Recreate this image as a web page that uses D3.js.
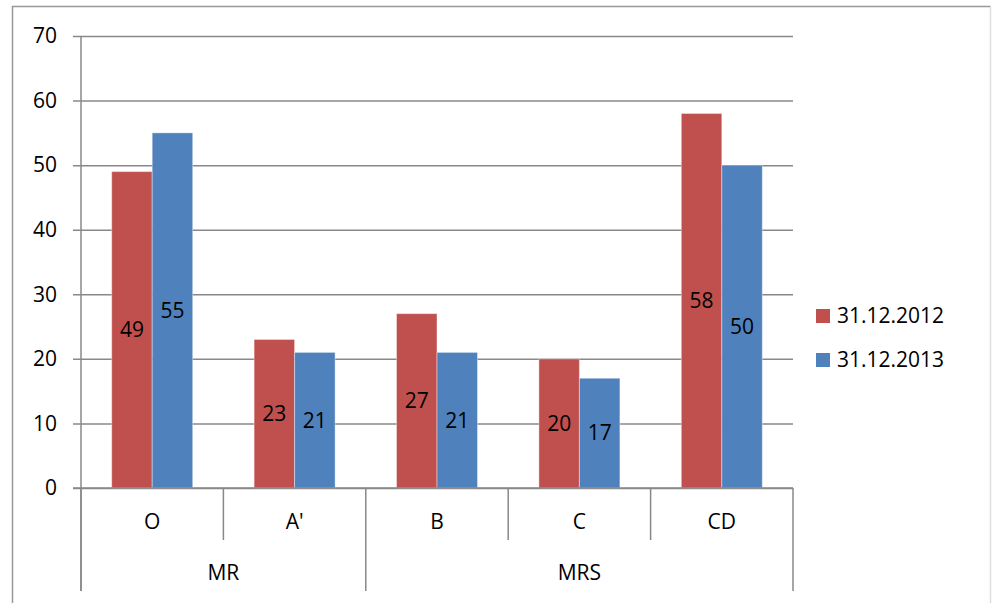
<!DOCTYPE html>
<html lang="en">
<head>
    <meta charset="UTF-8">
    <title>Chart</title>
    <script src="https://d3js.org/d3.v7.min.js"></script>
    <style>
        body { margin: 0; background: #fff; }
        text { font-family: "Open Sans", sans-serif; fill: #000; }
    </style>
</head>
<body>
<script type="text/javascript">
    var categories = ["O", "A'", "B", "C", "CD"];
    var groups = [
        {name: "MR", members: ["O", "A'"]},
        {name: "MRS", members: ["B", "C", "CD"]}
    ];
    var seriesNames = ["31.12.2012", "31.12.2013"];
    var values2012 = [49, 23, 27, 20, 58];
    var values2013 = [55, 21, 21, 17, 50];
    var yTicks = [0, 10, 20, 30, 40, 50, 60, 70];
    var colors = ["#C0504D", "#4F81BD"];

    var svgWidth = 992, svgHeight = 603;
    var plotLeft = 81, plotRight = 793, plotTop = 36, plotBottom = 488;
    var gridColor = "#888";
    var fontSize = "21px";

    var svg = d3.select("body").append("svg")
        .attr("width", svgWidth)
        .attr("height", svgHeight);

    // chart frame
    svg.append("path")
        .attr("d", "M12.5,610 V6.5 H990.5")
        .attr("fill", "none")
        .attr("stroke", "#999")
        .attr("stroke-width", 1.5);
    svg.append("line")
        .attr("x1", 990.5).attr("x2", 990.5).attr("y1", 7).attr("y2", 610)
        .attr("stroke", "#ddd").attr("stroke-width", 1.5);

    var yScale = d3.scaleLinear().domain([0, 70]).range([plotBottom, plotTop]);
    var xScale = d3.scaleBand().domain(categories).range([plotLeft, plotRight]);
    var inner = d3.scaleBand().domain(seriesNames).range([0, xScale.bandwidth()]).paddingInner(0).paddingOuter(0.758);

    // gridlines + y labels
    var yAxis = d3.axisLeft(yScale).tickValues(yTicks).tickSize(-(plotRight - plotLeft + 8)).tickPadding(16);
    var gy = svg.append("g")
        .attr("transform", "translate(" + (plotLeft - 8) + ",0)")
        .call(yAxis);
    gy.select(".domain").remove();
    gy.selectAll(".tick line").attr("stroke", gridColor).attr("stroke-width", 1.5);
    gy.selectAll(".tick text").attr("font-size", fontSize).attr("font-family", "Open Sans, sans-serif").attr("fill", "#000");

    // y axis line
    svg.append("line")
        .attr("x1", plotLeft).attr("x2", plotLeft).attr("y1", plotTop).attr("y2", 591)
        .attr("stroke", gridColor).attr("stroke-width", 1.5);

    // bars
    var data = categories.map(function (c, i) {
        return {cat: c, vals: [values2012[i], values2013[i]]};
    });
    var cg = svg.selectAll(".cat")
        .data(data)
        .enter()
        .append("g")
        .attr("transform", function (d) { return "translate(" + xScale(d.cat) + ",0)"; });
    var bars = cg.selectAll("g.bar")
        .data(function (d) {
            return d.vals.map(function (v, j) { return {series: seriesNames[j], v: v, j: j}; });
        })
        .enter()
        .append("g");
    bars.append("rect")
        .attr("x", function (d) { return inner(d.series); })
        .attr("y", function (d) { return yScale(d.v); })
        .attr("width", inner.bandwidth())
        .attr("height", function (d) { return plotBottom - yScale(d.v); })
        .attr("fill", function (d) { return colors[d.j]; })
        .attr("stroke", "#fff")
        .attr("stroke-opacity", 0.4)
        .attr("stroke-width", 1);
    bars.append("text")
        .attr("x", function (d) { return inner(d.series) + inner.bandwidth() / 2; })
        .attr("y", function (d) { return (yScale(d.v) + plotBottom) / 2; })
        .attr("dy", "0.35em")
        .attr("text-anchor", "middle")
        .attr("font-size", fontSize)
        .text(function (d) { return d.v; });

    // category axis
    svg.append("line")
        .attr("x1", plotLeft - 8).attr("x2", plotRight).attr("y1", plotBottom).attr("y2", plotBottom)
        .attr("stroke", gridColor).attr("stroke-width", 1.5);

    var groupEdges = groups.map(function (g) { return xScale(g.members[0]); });
    categories.forEach(function (c) {
        var x = xScale(c);
        var isGroup = groupEdges.indexOf(x) >= 0;
        svg.append("line")
            .attr("x1", x).attr("x2", x)
            .attr("y1", plotBottom).attr("y2", isGroup ? 591 : 540)
            .attr("stroke", gridColor).attr("stroke-width", 1.5);
    });
    svg.append("line")
        .attr("x1", plotRight).attr("x2", plotRight).attr("y1", plotBottom).attr("y2", 591)
        .attr("stroke", gridColor).attr("stroke-width", 1.5);

    svg.selectAll(".catlabel")
        .data(categories)
        .enter()
        .append("text")
        .attr("x", function (c) { return xScale(c) + xScale.bandwidth() / 2; })
        .attr("y", 522)
        .attr("dy", "0.35em")
        .attr("text-anchor", "middle")
        .attr("font-size", fontSize)
        .text(function (c) { return c; });

    svg.selectAll(".grouplabel")
        .data(groups)
        .enter()
        .append("text")
        .attr("x", function (g) {
            var a = xScale(g.members[0]);
            var b = xScale(g.members[g.members.length - 1]) + xScale.bandwidth();
            return (a + b) / 2;
        })
        .attr("y", 573)
        .attr("dy", "0.35em")
        .attr("text-anchor", "middle")
        .attr("font-size", fontSize)
        .text(function (g) { return g.name; });

    // legend
    var legend = svg.selectAll(".legend")
        .data(seriesNames)
        .enter()
        .append("g")
        .attr("transform", function (d, i) { return "translate(816," + (309 + i * 44) + ")"; });
    legend.append("rect")
        .attr("width", 14).attr("height", 14)
        .attr("fill", function (d, i) { return colors[i]; });
    legend.append("text")
        .attr("x", 21).attr("y", 7)
        .attr("dy", "0.35em")
        .attr("font-size", fontSize)
        .text(function (d) { return d; });
</script>
</body>
</html>
